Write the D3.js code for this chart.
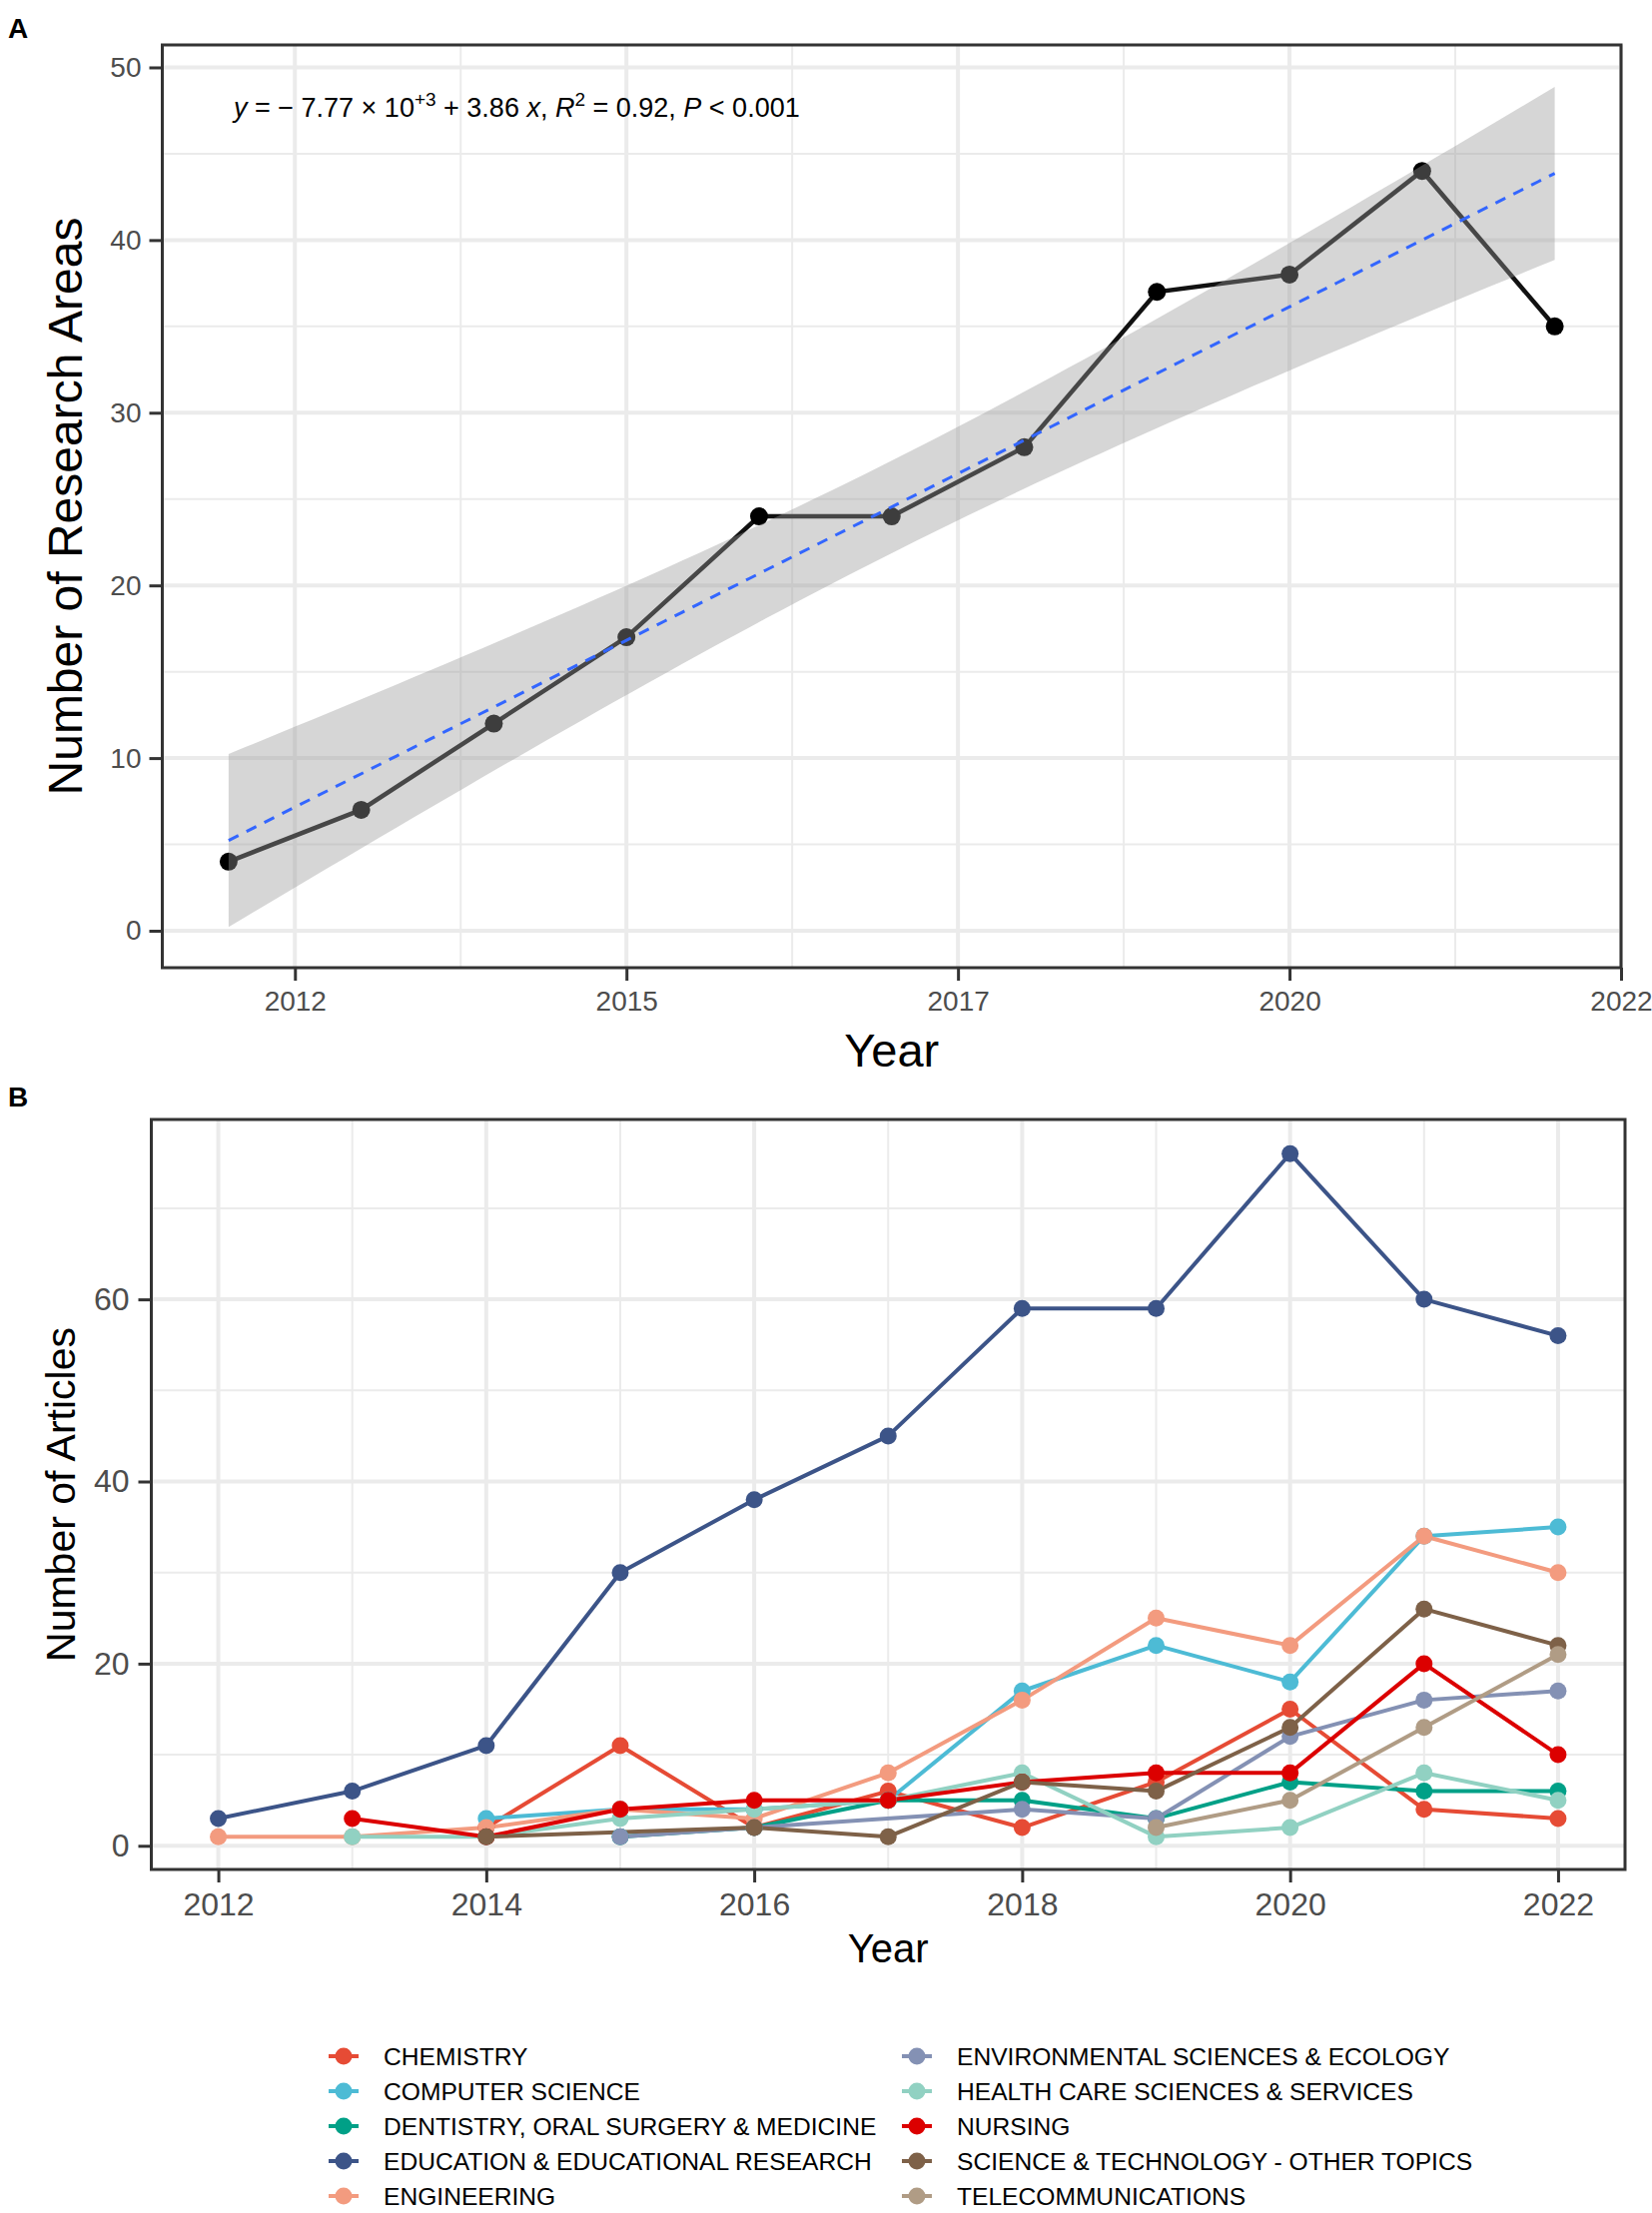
<!DOCTYPE html>
<html>
<head>
<meta charset="utf-8">
<script src="https://cdn.jsdelivr.net/npm/d3@7"></script>
<style>
body{margin:0;background:#fff;}
text{font-family:"Liberation Sans", Arial, Helvetica, sans-serif;}
</style>
</head>
<body>
<script>
//wrap everything in a self-executing anonymous function
(function(){

//---- data, panel A ----
var years = [2012, 2013, 2014, 2015, 2016, 2017, 2018, 2019, 2020, 2021, 2022];
var researchAreas = [4, 7, 12, 17, 24, 24, 28, 37, 38, 44, 35];
var aXTickPos = [2012.5, 2015, 2017.5, 2020, 2022.5];
var aXTickLabels = ["2012", "2015", "2017", "2020", "2022"];
var aXMinor = [2013.75, 2016.25, 2018.75, 2021.25];
var aYTicks = [0, 10, 20, 30, 40, 50];
var aYMinor = [5, 15, 25, 35, 45];

//---- data, panel B (null = no articles that year) ----
var topics = ["CHEMISTRY", "COMPUTER SCIENCE", "DENTISTRY, ORAL SURGERY & MEDICINE",
              "EDUCATION & EDUCATIONAL RESEARCH", "ENGINEERING",
              "ENVIRONMENTAL SCIENCES & ECOLOGY", "HEALTH CARE SCIENCES & SERVICES",
              "NURSING", "SCIENCE & TECHNOLOGY - OTHER TOPICS", "TELECOMMUNICATIONS"];
var chemistry       = [null, null, 2, 11, 2, 6, 2, 7, 15, 4, 3];
var computerScience = [null, null, 3, 4, 4, 5, 17, 22, 18, 34, 35];
var dentistry       = [null, null, null, 1, 2, 5, 5, 3, 7, 6, 6];
var education       = [3, 6, 11, 30, 38, 45, 59, 59, 76, 60, 56];
var engineering     = [1, 1, 2, 4, 3, 8, 16, 25, 22, 34, 30];
var environmental   = [null, null, null, 1, 2, null, 4, 3, 12, 16, 17];
var healthCare      = [null, 1, 1, 3, 4, 5, 8, 1, 2, 8, 5];
var nursing         = [null, 3, 1, 4, 5, 5, 7, 8, 8, 20, 10];
var sciTech         = [null, null, 1, null, 2, 1, 7, 6, 13, 26, 22];
var telecom         = [null, null, null, null, null, null, null, 2, 5, 13, 21];
var bXTicks = [2012, 2014, 2016, 2018, 2020, 2022];
var bXMinor = [2013, 2015, 2017, 2019, 2021];
var bYTicks = [0, 20, 40, 60];
var bYMinor = [10, 30, 50, 70];

var topicSeries = [chemistry, computerScience, dentistry, education, engineering,
                   environmental, healthCare, nursing, sciTech, telecom];
//npg palette
var topicColors = ["#E64B35", "#4DBBD5", "#00A087", "#3C5488", "#F39B7F",
                   "#8491B4", "#91D1C2", "#DC0000", "#7E6148", "#B09C85"];

var tCrit = 2.262157; //t(0.975, df = 9)
var fontFam = '"Liberation Sans", Arial, Helvetica, sans-serif';

var svg = d3.select("body")
    .append("svg")
    .attr("width", 1654)
    .attr("height", 2216);

//draw ggplot-ish grid lines inside a panel (pixel positions)
function drawGrid(g, box, xMaj, xMin, yMaj, yMin){
    g.selectAll(".minY").data(yMin).enter().append("line")
        .attr("x1", box.left).attr("x2", box.right)
        .attr("y1", function(d){ return d; }).attr("y2", function(d){ return d; })
        .attr("stroke", "#EBEBEB").attr("stroke-width", 2);
    g.selectAll(".minX").data(xMin).enter().append("line")
        .attr("y1", box.top).attr("y2", box.bottom)
        .attr("x1", function(d){ return d; }).attr("x2", function(d){ return d; })
        .attr("stroke", "#EBEBEB").attr("stroke-width", 2);
    g.selectAll(".majY").data(yMaj).enter().append("line")
        .attr("x1", box.left).attr("x2", box.right)
        .attr("y1", function(d){ return d; }).attr("y2", function(d){ return d; })
        .attr("stroke", "#EBEBEB").attr("stroke-width", 4);
    g.selectAll(".majX").data(xMaj).enter().append("line")
        .attr("y1", box.top).attr("y2", box.bottom)
        .attr("x1", function(d){ return d; }).attr("x2", function(d){ return d; })
        .attr("stroke", "#EBEBEB").attr("stroke-width", 4);
};

//style a d3 axis like theme_bw
function styleAxis(g, size){
    g.select(".domain").remove();
    g.selectAll(".tick line").attr("stroke", "#333333").attr("stroke-width", 3);
    g.selectAll(".tick text")
        .attr("fill", "#4D4D4D")
        .style("font-size", size + "px")
        .style("font-family", fontFam);
};

function panelBorder(g, box){
    g.append("rect")
        .attr("x", box.left).attr("y", box.top)
        .attr("width", box.right - box.left).attr("height", box.bottom - box.top)
        .attr("fill", "none").attr("stroke", "#333333").attr("stroke-width", 3);
};

//============ PANEL A ============
var aBox = {left: 162.5, right: 1623, top: 45, bottom: 969};
var xA = d3.scaleLinear().domain([2011.5, 2022.5]).range([aBox.left, aBox.right]);
var yA = d3.scaleLinear().domain([-2.14, 51.3]).range([aBox.bottom, aBox.top]);

var gA = svg.append("g");
drawGrid(gA, aBox, aXTickPos.map(xA), aXMinor.map(xA), aYTicks.map(yA), aYMinor.map(yA));

//observed series
var aData = years.map(function(y, i){ return {x: y, y: researchAreas[i]}; });
gA.append("path")
    .datum(aData)
    .attr("fill", "none")
    .attr("stroke", "#111111")
    .attr("stroke-width", 4.5)
    .attr("d", d3.line().x(function(d){ return xA(d.x); }).y(function(d){ return yA(d.y); }));
gA.selectAll(".ptA").data(aData).enter().append("circle")
    .attr("cx", function(d){ return xA(d.x); })
    .attr("cy", function(d){ return yA(d.y); })
    .attr("r", 9)
    .attr("fill", "#000");

//linear fit with 95% confidence band
var n = years.length,
    xbar = d3.mean(years),
    ybar = d3.mean(researchAreas),
    sxx = d3.sum(years, function(x){ return (x - xbar) * (x - xbar); }),
    sxy = d3.sum(years, function(x, i){ return (x - xbar) * (researchAreas[i] - ybar); }),
    slope = sxy / sxx,
    intercept = ybar - slope * xbar,
    sse = d3.sum(years, function(x, i){
        var r = researchAreas[i] - (intercept + slope * x); return r * r; }),
    sRes = Math.sqrt(sse / (n - 2));

var fitData = d3.range(80).map(function(i){
    var x = years[0] + i * (years[n - 1] - years[0]) / 79,
        fit = intercept + slope * x,
        se = sRes * Math.sqrt(1 / n + (x - xbar) * (x - xbar) / sxx);
    return {x: x, fit: fit, lo: fit - tCrit * se, hi: fit + tCrit * se};
});

gA.append("path")
    .datum(fitData)
    .attr("fill", "#999999")
    .attr("fill-opacity", 0.4)
    .attr("d", d3.area()
        .x(function(d){ return xA(d.x); })
        .y0(function(d){ return yA(d.lo); })
        .y1(function(d){ return yA(d.hi); }));
gA.append("path")
    .datum(fitData)
    .attr("fill", "none")
    .attr("stroke", "#3366FF")
    .attr("stroke-width", 3)
    .attr("stroke-dasharray", "11,9")
    .attr("d", d3.line().x(function(d){ return xA(d.x); }).y(function(d){ return yA(d.fit); }));

panelBorder(gA, aBox);

//axes
var axAy = gA.append("g")
    .attr("transform", "translate(" + aBox.left + ",0)")
    .call(d3.axisLeft(yA).tickValues(aYTicks).tickSize(13).tickPadding(8));
styleAxis(axAy, 28);
var axAx = gA.append("g")
    .attr("transform", "translate(0," + aBox.bottom + ")")
    .call(d3.axisBottom(xA).tickValues(aXTickPos).tickSize(13).tickPadding(10)
        .tickFormat(function(d, i){ return aXTickLabels[i]; }));
styleAxis(axAx, 28);

//titles
svg.append("text").attr("x", 8).attr("y", 38)
    .style("font-size", "28px").style("font-weight", "bold").text("A");
svg.append("text")
    .attr("x", (aBox.left + aBox.right) / 2).attr("y", 1068)
    .attr("text-anchor", "middle")
    .style("font-size", "47px").text("Year");
svg.append("text")
    .attr("transform", "translate(82," + (aBox.top + aBox.bottom) / 2 + ") rotate(-90)")
    .attr("text-anchor", "middle")
    .style("font-size", "48px").text("Number of Research Areas");

//equation label
var eq = svg.append("text")
    .attr("x", 234).attr("y", 117)
    .style("font-size", "27px");
eq.append("tspan").style("font-style", "italic").text("y");
eq.append("tspan").text(" = \u2212 " + (intercept / 1000).toFixed(2).replace("-", "") + " \u00D7 10");
eq.append("tspan").attr("dy", -11).style("font-size", "19px").text("+3");
eq.append("tspan").attr("dy", 11).text(" + " + slope.toFixed(2) + " ");
eq.append("tspan").style("font-style", "italic").text("x");
eq.append("tspan").text(", ");
eq.append("tspan").style("font-style", "italic").text("R");
eq.append("tspan").attr("dy", -11).style("font-size", "19px").text("2");
eq.append("tspan").attr("dy", 11)
    .text(" = " + (slope * slope * sxx / (slope * slope * sxx + sse)).toFixed(2) + ", ");
eq.append("tspan").style("font-style", "italic").text("P");
eq.append("tspan").text(" < 0.001");

//============ PANEL B ============
var bBox = {left: 151.5, right: 1627, top: 1121, bottom: 1872};
var xB = d3.scaleLinear().domain([2011.5, 2022.5]).range([bBox.left, bBox.right]);
var yB = d3.scaleLinear().domain([-2.6, 79.75]).range([bBox.bottom, bBox.top]);

var gB = svg.append("g");
drawGrid(gB, bBox, bXTicks.map(xB), bXMinor.map(xB), bYTicks.map(yB), bYMinor.map(yB));

var seriesData = topicSeries.map(function(vals, k){
    return {
        color: topicColors[k],
        pts: years.map(function(y, i){ return {x: y, y: vals[i]}; })
            .filter(function(d){ return d.y !== null; })
    };
});

var lineB = d3.line()
    .x(function(d){ return xB(d.x); })
    .y(function(d){ return yB(d.y); });

gB.selectAll(".lineB").data(seriesData).enter().append("path")
    .attr("fill", "none")
    .attr("stroke", function(d){ return d.color; })
    .attr("stroke-width", 4)
    .attr("stroke-linejoin", "round")
    .attr("d", function(d){ return lineB(d.pts); });

seriesData.forEach(function(s){
    gB.selectAll(null).data(s.pts).enter().append("circle")
        .attr("cx", function(d){ return xB(d.x); })
        .attr("cy", function(d){ return yB(d.y); })
        .attr("r", 8.5)
        .attr("fill", s.color);
});

panelBorder(gB, bBox);

var axBy = gB.append("g")
    .attr("transform", "translate(" + bBox.left + ",0)")
    .call(d3.axisLeft(yB).tickValues(bYTicks).tickSize(13).tickPadding(9));
styleAxis(axBy, 32);
var axBx = gB.append("g")
    .attr("transform", "translate(0," + bBox.bottom + ")")
    .call(d3.axisBottom(xB).tickValues(bXTicks).tickSize(13).tickPadding(10)
        .tickFormat(d3.format("d")));
styleAxis(axBx, 32);

svg.append("text").attr("x", 8).attr("y", 1108)
    .style("font-size", "28px").style("font-weight", "bold").text("B");
svg.append("text")
    .attr("x", (bBox.left + bBox.right) / 2).attr("y", 1965)
    .attr("text-anchor", "middle")
    .style("font-size", "40px").text("Year");
svg.append("text")
    .attr("transform", "translate(75," + (bBox.top + bBox.bottom) / 2 + ") rotate(-90)")
    .attr("text-anchor", "middle")
    .style("font-size", "41px").text("Number of Articles");

//legend, two columns of five
var legend = svg.selectAll(".legend").data(topics).enter().append("g")
    .attr("transform", function(d, i){
        var col = Math.floor(i / 5), row = i % 5;
        return "translate(" + (344 + col * 574) + "," + (2059 + row * 35) + ")";
    });
legend.append("line")
    .attr("x1", -15).attr("x2", 15)
    .attr("stroke", function(d, i){ return topicColors[i]; })
    .attr("stroke-width", 4);
legend.append("circle")
    .attr("r", 8.5)
    .attr("fill", function(d, i){ return topicColors[i]; });
legend.append("text")
    .attr("x", 40).attr("y", 8.5)
    .style("font-size", "24.6px")
    .text(function(d){ return d; });

})();
</script>
</body>
</html>
